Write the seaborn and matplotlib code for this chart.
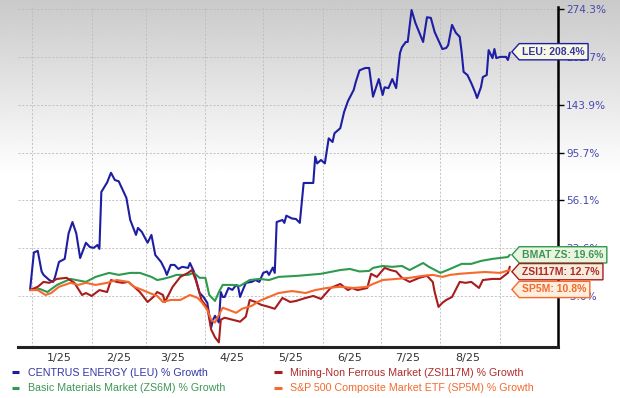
import numpy as np
import pandas as pd
import matplotlib
matplotlib.use('Agg')
import matplotlib.pyplot as plt
import matplotlib.dates as mdates
from matplotlib.path import Path
from matplotlib.lines import Line2D
from matplotlib.ticker import NullFormatter, NullLocator, FixedLocator, FixedFormatter
import seaborn as sns

# % growth since start of the year
leu_dates = ['2024-12-31', '2025-01-02', '2025-01-04', '2025-01-06', '2025-01-07', '2025-01-10', '2025-01-12',
             '2025-01-13', '2025-01-15', '2025-01-18', '2025-01-20', '2025-01-22', '2025-01-24', '2025-01-26',
             '2025-01-29', '2025-01-31', '2025-02-02', '2025-02-04', '2025-02-05', '2025-02-06', '2025-02-09',
             '2025-02-11', '2025-02-13', '2025-02-15', '2025-02-19', '2025-02-21', '2025-02-24', '2025-02-25',
             '2025-02-27', '2025-03-02', '2025-03-04', '2025-03-06', '2025-03-09', '2025-03-11', '2025-03-12',
             '2025-03-14', '2025-03-16', '2025-03-18', '2025-03-20', '2025-03-23', '2025-03-24', '2025-03-26',
             '2025-03-29', '2025-03-31', '2025-04-02', '2025-04-04', '2025-04-05', '2025-04-06', '2025-04-08',
             '2025-04-09', '2025-04-10', '2025-04-11', '2025-04-13', '2025-04-15', '2025-04-17', '2025-04-18',
             '2025-04-19', '2025-04-20', '2025-04-22', '2025-04-25', '2025-04-27', '2025-04-29', '2025-05-01',
             '2025-05-03', '2025-05-04', '2025-05-06', '2025-05-07', '2025-05-08', '2025-05-11', '2025-05-12',
             '2025-05-13', '2025-05-16', '2025-05-18', '2025-05-20', '2025-05-22', '2025-05-27', '2025-05-28',
             '2025-05-29', '2025-05-31', '2025-06-02', '2025-06-04', '2025-06-06', '2025-06-07', '2025-06-10',
             '2025-06-12', '2025-06-14', '2025-06-17', '2025-06-18', '2025-06-20', '2025-06-23', '2025-06-25',
             '2025-06-27', '2025-06-30', '2025-07-02', '2025-07-03', '2025-07-05', '2025-07-07', '2025-07-09',
             '2025-07-11', '2025-07-12', '2025-07-14', '2025-07-15', '2025-07-17', '2025-07-19', '2025-07-23',
             '2025-07-25', '2025-07-27', '2025-07-29', '2025-08-02', '2025-08-04', '2025-08-05', '2025-08-07',
             '2025-08-09', '2025-08-11', '2025-08-12', '2025-08-13', '2025-08-15', '2025-08-17', '2025-08-19',
             '2025-08-20', '2025-08-22', '2025-08-23', '2025-08-25', '2025-08-26', '2025-08-28', '2025-08-29',
             '2025-08-30', '2025-09-01', '2025-09-04', '2025-09-05', '2025-09-06']
leu_pct = [0, 21, 22, 10, 8.1, 5.3, 4.3,
           7, 15.4, 17.2, 33, 40.6, 33, 17.7,
           27, 24.4, 23.8, 25.6, 23.2, 62.5, 70,
           78, 72, 71, 58, 42, 32, 36.6,
           34, 27, 32, 19.5, 15.4, 11, 8.1,
           13.7, 13.7, 11.4, 12.6, 12, 14.8, 10,
           -1.5, -3.5, -6.4, -17.9, -14.4, -12.6, -15.7,
           -1, -3.5, -3.5, 1.1, 0.1, 2.7, 1.7,
           -3.5, -1, 3.8, 4.3, 5.3, 4.3, 9.2,
           10, 8.1, 12.2, 9.2, 40.6, 42, 40,
           45, 43, 42.7, 40, 69.6, 69.6, 92,
           86, 89, 86, 109, 105.5, 114, 119,
           136, 148, 161, 170, 185, 188, 188,
           153, 174, 155, 164, 163, 174, 163,
           208, 216, 223.5, 223.5, 272.7, 252, 223.5,
           261, 260, 238, 213.5, 215, 219, 249,
           237, 231, 209, 183, 179, 169, 158,
           151.5, 164, 176.5, 179, 212, 201, 213.5,
           201, 202.7, 202.7, 198.5, 208.4]

bmat_dates = ['2024-12-31', '2025-01-05', '2025-01-09', '2025-01-14', '2025-01-21', '2025-01-29', '2025-02-03',
              '2025-02-10', '2025-02-15', '2025-02-21', '2025-02-26', '2025-03-04', '2025-03-07', '2025-03-10',
              '2025-03-14', '2025-03-17', '2025-03-23', '2025-03-26', '2025-03-29', '2025-04-01', '2025-04-03',
              '2025-04-06', '2025-04-08', '2025-04-10', '2025-04-15', '2025-04-19', '2025-04-24', '2025-04-29',
              '2025-05-04', '2025-05-09', '2025-05-19', '2025-05-31', '2025-06-10', '2025-06-15', '2025-06-20',
              '2025-06-25', '2025-06-27', '2025-07-02', '2025-07-07', '2025-07-12', '2025-07-16', '2025-07-23',
              '2025-07-26', '2025-08-01', '2025-08-06', '2025-08-12', '2025-08-17', '2025-08-22', '2025-08-28',
              '2025-09-05', '2025-09-06']
bmat_pct = [0, 0.6, -1, 2.7, 5.9, 4.3, 7,
            9.2, 8.1, 9.2, 9.2, 7, 5.3, 5.9,
            7, 8.1, 8.1, 9.2, 6.5, 6.5, -2.5,
            -5.5, -1, 2.7, 2.7, 2.2, 5.3, 5.9,
            5.3, 7, 7.6, 8.7, 10.8, 11.4, 10,
            10.3, 12, 13.1, 12.6, 13.1, 10.8, 14.8,
            12.6, 9.2, 11.4, 14.3, 14.3, 16, 17.2,
            18.3, 19.6]

zsi_dates = ['2024-12-31', '2025-01-04', '2025-01-07', '2025-01-10', '2025-01-14', '2025-01-19', '2025-01-23',
             '2025-01-27', '2025-01-29', '2025-02-01', '2025-02-05', '2025-02-09', '2025-02-11', '2025-02-14',
             '2025-02-17', '2025-02-20', '2025-02-23', '2025-02-26', '2025-03-02', '2025-03-05', '2025-03-07',
             '2025-03-10', '2025-03-11', '2025-03-15', '2025-03-19', '2025-03-23', '2025-03-25', '2025-03-27',
             '2025-03-30', '2025-04-02', '2025-04-04', '2025-04-06', '2025-04-08', '2025-04-09', '2025-04-11',
             '2025-04-15', '2025-04-19', '2025-04-22', '2025-04-24', '2025-04-27', '2025-04-30', '2025-05-04',
             '2025-05-07', '2025-05-11', '2025-05-15', '2025-05-18', '2025-05-23', '2025-05-27', '2025-05-31',
             '2025-06-05', '2025-06-10', '2025-06-14', '2025-06-16', '2025-06-19', '2025-06-24', '2025-06-26',
             '2025-06-29', '2025-07-03', '2025-07-06', '2025-07-09', '2025-07-12', '2025-07-16', '2025-07-21',
             '2025-07-25', '2025-07-28', '2025-07-29', '2025-07-31', '2025-08-02', '2025-08-04', '2025-08-07',
             '2025-08-11', '2025-08-14', '2025-08-17', '2025-08-21', '2025-08-23', '2025-08-28', '2025-09-01',
             '2025-09-05', '2025-09-06']
zsi_pct = [0, 1.7, 4.3, 3.8, 5.9, 6.5, 3.8,
           -2.5, -1.5, -3, 0, -1, 5.3, 4.3,
           3.8, 4.3, 1.7, -1, -6, -3.5, -1,
           -2.5, -6, 1.7, 7, 9.2, 10.8, 5.3,
           -5, -8.8, -18.8, -22.2, -24.3, -14.4, -13.5,
           -14.4, -15.3, -13, -5, -6, -7.4, -8.4,
           -9.3, -4, -6, -5.5, -4, -3, -4.5,
           1.1, 3.2, 0, 1.1, 0, 1.1, 8.7,
           7, 12, 10.8, 10, 6.5, 4.3, 6.5,
           7.6, 4.3, -1, -8.4, -6.4, -5, -3.5,
           4.3, 3.8, 4.3, 1.1, 5.3, 5.9, 5.9,
           9.2, 12.7]

sp5m_dates = ['2024-12-31', '2025-01-04', '2025-01-08', '2025-01-11', '2025-01-15', '2025-01-21', '2025-01-25',
              '2025-01-29', '2025-02-03', '2025-02-09', '2025-02-14', '2025-02-20', '2025-02-23', '2025-02-26',
              '2025-03-03', '2025-03-07', '2025-03-10', '2025-03-14', '2025-03-19', '2025-03-24', '2025-03-28',
              '2025-03-30', '2025-04-02', '2025-04-04', '2025-04-06', '2025-04-08', '2025-04-10', '2025-04-13',
              '2025-04-17', '2025-04-20', '2025-04-25', '2025-04-29', '2025-05-04', '2025-05-09', '2025-05-16',
              '2025-05-23', '2025-05-28', '2025-06-03', '2025-06-10', '2025-06-17', '2025-06-24', '2025-06-27',
              '2025-07-02', '2025-07-09', '2025-07-16', '2025-07-23', '2025-07-28', '2025-08-02', '2025-08-06',
              '2025-08-11', '2025-08-17', '2025-08-24', '2025-09-01', '2025-09-06']
sp5m_pct = [0, 0, -2.5, -1.5, 1.7, 3.8, 2.7,
            3.8, 2.7, 3.8, 5.3, 4.3, 1.7, 0.6,
            -1.5, -3, -6, -5, -5, -2.5, -4,
            -6, -9.8, -14.4, -15.7, -12.1, -8.8, -9.8,
            -11.2, -9.3, -7.9, -5.5, -3.5, -1.5, -0.5,
            -1.5, 0, 1.1, 1.7, 1.1, 1.7, 3.2,
            5.3, 5.9, 6.5, 7.6, 8.1, 7, 8.1,
            8.7, 9.2, 9.7, 9.2, 10.8]

ytick_vals = [-3.0, 23.6, 56.1, 95.7, 143.9, 202.7, 274.3]
month_label_dates = ['2025-01-15', '2025-02-15', '2025-03-15', '2025-04-15',
                     '2025-05-15', '2025-06-15', '2025-07-15', '2025-08-15']
month_labels = ['1/25', '2/25', '3/25', '4/25', '5/25', '6/25', '7/25', '8/25']

legend_names = ['CENTRUS ENERGY (LEU) % Growth', 'Basic Materials Market (ZS6M) % Growth',
                'Mining-Non Ferrous Market (ZSI117M) % Growth', 'S&P 500 Composite Market ETF (SP5M) % Growth']
tags = ['LEU', 'BMAT ZS', 'ZSI117M', 'SP5M']

# dates, values, line colour, text colour, tag fill, tag offset (pt)
series = [
    (leu_dates, leu_pct, '#1e1ea3', '#3434a8', '#f8f8e2', 0.7),
    (bmat_dates, bmat_pct, '#2f9a4e', '#3d9656', '#eaf4de', 0),
    (zsi_dates, zsi_pct, '#a81c1c', '#b02a2a', '#f6ecdc', -3.6),
    (sp5m_dates, sp5m_pct, '#f7692c', '#f26a2e', '#fdeedd', -14.0),
]

sns.set_style('white')
plt.rcParams['font.family'] = ['DejaVu Sans']


def fwd(g):
    return np.log(np.maximum(np.asarray(g, dtype=float) / 100.0 + 1.25, 1e-6))


def inv(t):
    return (np.exp(t) - 1.25) * 100.0


def tag_box(x0, y0, width, height, mutation_size):
    # price-tag shape pointing left
    pad = 0.3 * mutation_size
    x0, y0 = x0 - pad, y0 - pad
    x1, y1 = x0 + width + 2 * pad, y0 + height + 2 * pad
    tip = 0.45 * (y1 - y0)
    verts = [(x0, y0), (x1, y0), (x1, y1), (x0, y1), (x0 - tip, (y0 + y1) / 2), (x0, y0)]
    return Path(verts, closed=True)


fig = plt.figure(figsize=(6.2, 3.98), dpi=100)

# grey to white background wash
bg = fig.add_axes([0, 0, 1, 1])
rows = np.arange(398)
shade = np.clip(0.79 + 0.21 * rows / 175.0, 0, 1)
bg.imshow(np.tile(shade[:, None], (1, 4)), aspect='auto', cmap='gray', vmin=0, vmax=1,
          extent=[0, 1, 0, 1], interpolation='bilinear')
bg.axis('off')

ax = fig.add_axes([18 / 620, 1 - 347 / 398, 540 / 620, 340 / 398])
ax.set_facecolor('none')

for dates, vals, lc, tc, fill, dy in series:
    sns.lineplot(x=pd.to_datetime(dates), y=vals, color=lc, lw=1.5, ax=ax, legend=False, sort=False)

ax.set_yscale('function', functions=(fwd, inv))
ax.set_ylim(-26.2, 277.7)
ax.set_xlim(pd.Timestamp('2024-12-24 18:00'), pd.Timestamp('2025-10-01'))

ax.set_yticks(ytick_vals)
ax.set_yticklabels([f'{v:.1f}%' for v in ytick_vals])
ax.yaxis.set_minor_locator(NullLocator())
ax.yaxis.tick_right()
ax.tick_params(axis='y', which='major', right=True, left=False, direction='out', length=4, width=1,
               color='black', labelsize=7.6, labelcolor='#4848b0', pad=2)

ax.xaxis.set_major_locator(mdates.MonthLocator())
ax.xaxis.set_major_formatter(NullFormatter())
ax.xaxis.set_minor_locator(FixedLocator(mdates.date2num(pd.to_datetime(month_label_dates))))
ax.xaxis.set_minor_formatter(FixedFormatter(month_labels))
ax.tick_params(axis='x', which='both', length=0, labelsize=8, labelcolor='#333333', pad=4)

ax.grid(True, which='major', axis='both', color='#bcbcbc', ls=(0, (2.5, 2)), lw=0.6)
ax.set_xlabel('')
ax.set_ylabel('')

ax.spines['left'].set_visible(False)
ax.spines['top'].set_visible(False)
ax.spines['right'].set_color('black')
ax.spines['right'].set_linewidth(1.8)
ax.spines['bottom'].set_color('#222222')
ax.spines['bottom'].set_linewidth(2.2)

# end-of-line value tags
for (dates, vals, lc, tc, fill, dy), tag in zip(series, tags):
    ax.annotate(f'{tag}: {vals[-1]:.1f}%', xy=(pd.Timestamp(dates[-1]), vals[-1]),
                xytext=(9, dy), textcoords='offset points', ha='left', va='center',
                fontsize=7.5, fontweight='bold', color=tc, family='Liberation Sans',
                bbox=dict(boxstyle=tag_box, fc=fill, ec=lc, lw=1),
                annotation_clip=False, zorder=10)

handles = [Line2D([], [], color=s[2], lw=2.2, solid_capstyle='butt') for s in series]
fig.legend(handles, legend_names, loc='upper left', bbox_to_anchor=(0.019, 0.075), ncol=2,
           frameon=False, handlelength=0.7, handletextpad=0.8, columnspacing=4.6, labelspacing=0.5,
           borderpad=0, borderaxespad=0, prop={'family': 'Liberation Sans', 'size': 7.7},
           labelcolor=[s[3] for s in series])

fig.savefig('out.png', dpi=100)
